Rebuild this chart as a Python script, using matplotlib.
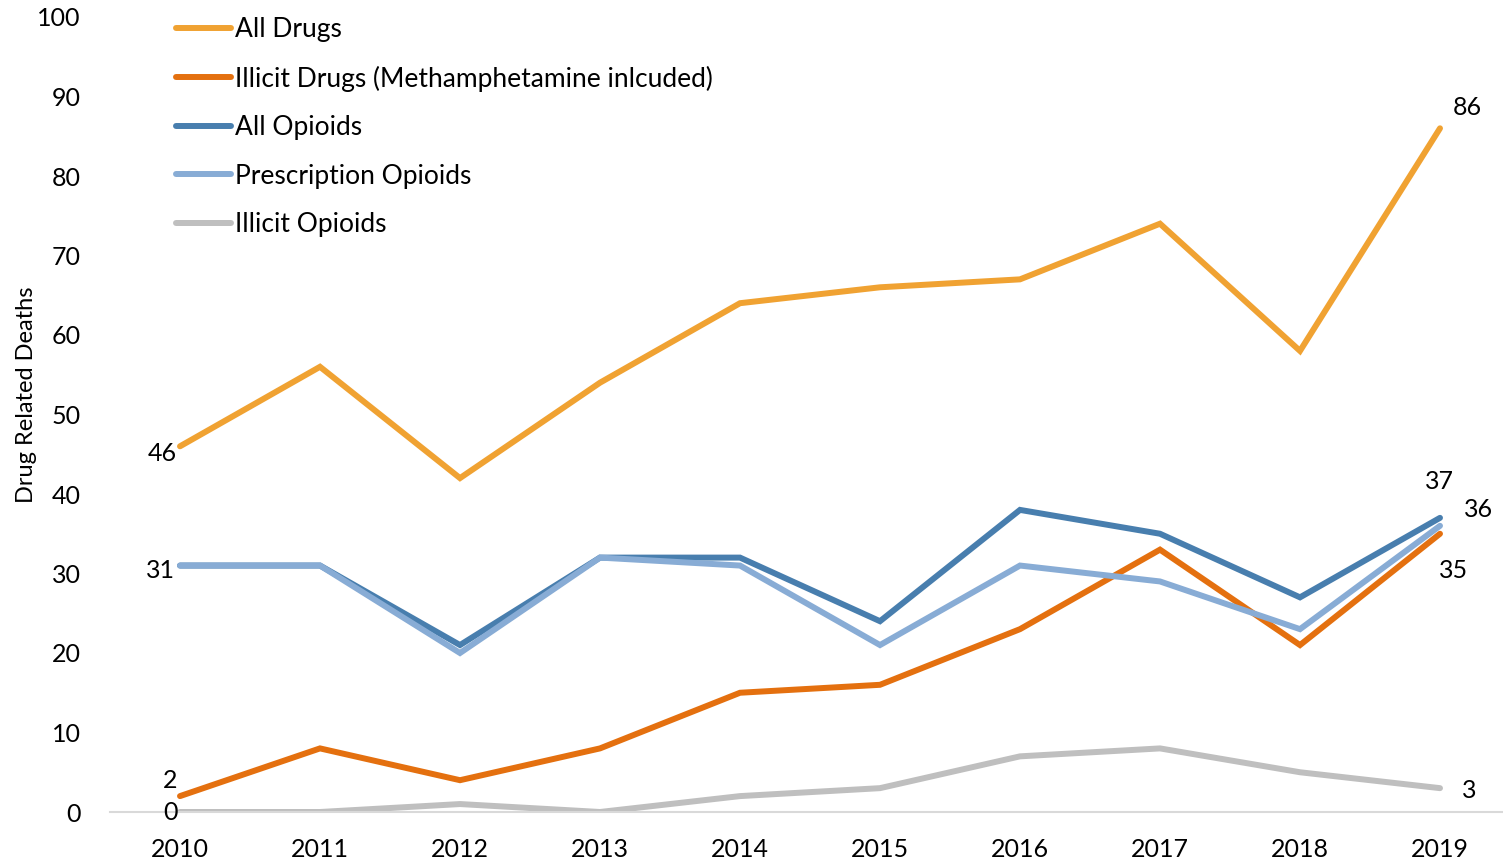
import matplotlib
matplotlib.use("Agg")
import matplotlib.pyplot as plt

years = ["2010", "2011", "2012", "2013", "2014", "2015", "2016", "2017", "2018", "2019"]
all_drugs = [46, 56, 42, 54, 64, 66, 67, 74, 58, 86]
illicit_drugs = [2, 8, 4, 8, 15, 16, 23, 33, 21, 35]
all_opioids = [31, 31, 21, 32, 32, 24, 38, 35, 27, 37]
prescription_opioids = [31, 31, 20, 32, 31, 21, 31, 29, 23, 36]
illicit_opioids = [0, 0, 1, 0, 2, 3, 7, 8, 5, 3]

series_names = ["All Drugs", "Illicit Drugs (Methamphetamine inlcuded)", "All Opioids",
                "Prescription Opioids", "Illicit Opioids"]
series_values = [all_drugs, illicit_drugs, all_opioids, prescription_opioids, illicit_opioids]
colors = ["#F0A232", "#E4700F", "#487EAE", "#88ACD5", "#BFBFBF"]

plt.rcParams['font.family'] = ['Lato', 'DejaVu Sans']

fig = plt.figure(figsize=(15.03, 8.65), dpi=100)
AW = 1400
ax = fig.add_axes([110 / 1503, 1 - 812 / 865, AW / 1503, (812 - 17) / 865])

x = list(range(len(years)))
for name, vals, c in zip(series_names, series_values, colors):
    ax.plot(x, vals, color=c, lw=4.3, solid_capstyle='round', solid_joinstyle='miter', label=name)

ax.set_xlim(-0.5, len(years) - 0.5)
ax.set_ylim(0, 100)
ax.set_xticks(x)
ax.set_xticklabels(years)
ax.set_yticks(range(0, 101, 10))
ax.tick_params(axis='both', length=0, labelsize=18, colors='black')
ax.tick_params(axis='x', pad=19)
ax.tick_params(axis='y', pad=21)
for s in ['top', 'right', 'left']:
    ax.spines[s].set_visible(False)
ax.spines['bottom'].set_color('#D9D9D9')
ax.spines['bottom'].set_linewidth(1.5)
ax.set_ylabel("Drug Related Deaths", fontsize=17)
ax.yaxis.set_label_coords((37 - 110) / AW, (812 - 395) / 795)

# data labels (offsets in pixels)
labels = [
    (0, all_drugs[0], (-18, -7)),
    (0, all_opioids[0], (-20, -5)),
    (0, illicit_drugs[0], (-10, 16)),
    (0, illicit_opioids[0], (-10, -1)),
    (9, all_drugs[-1], (27, 21)),
    (9, all_opioids[-1], (-1, 36)),
    (9, prescription_opioids[-1], (39, 16)),
    (9, illicit_drugs[-1], (14, -37)),
    (9, illicit_opioids[-1], (29, -2)),
]
for xi, v, off in labels:
    ax.annotate(str(v), (xi, v), xytext=off, textcoords='offset pixels',
                ha='center', va='center', fontsize=18)

leg = ax.legend(loc='upper left', bbox_to_anchor=((176 - 110) / AW, 1.0),
                frameon=False, fontsize=19, handlelength=2.1, handletextpad=0.12,
                labelspacing=0.89, borderpad=0, borderaxespad=0)

fig.savefig("out.png", dpi=100)
